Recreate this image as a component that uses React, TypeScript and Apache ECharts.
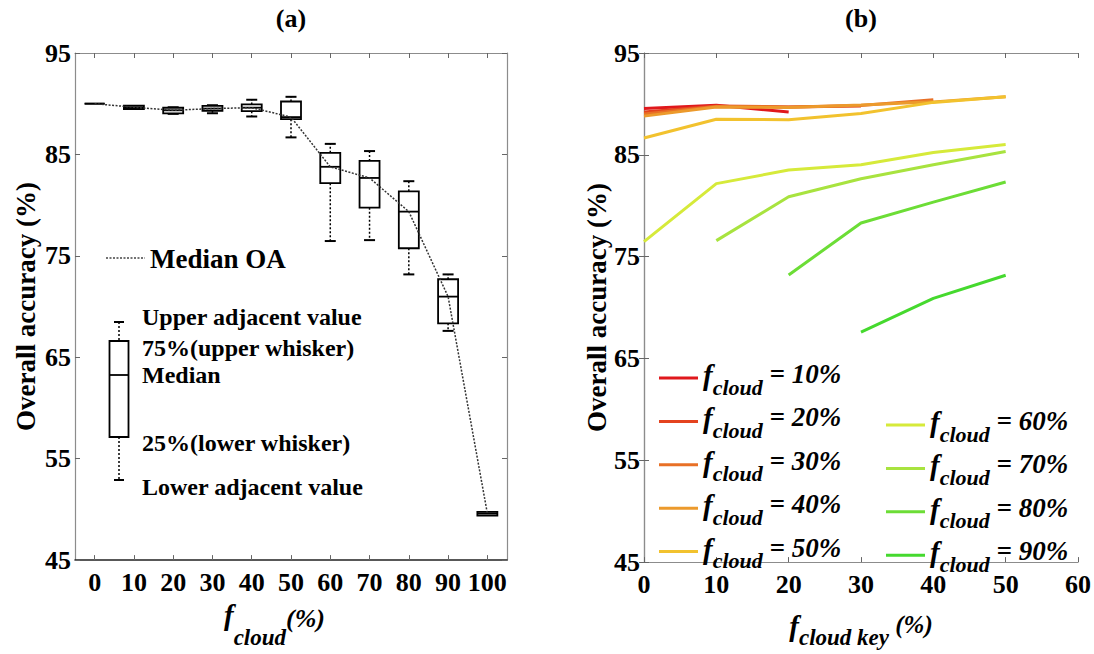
import React, { useEffect, useRef } from 'react';
import * as echarts from 'echarts';

const FONT = "'Liberation Serif', 'Times New Roman', serif";

// ---- Panel (a): box plot data ----
const boxCats = ['0', '10', '20', '30', '40', '50', '60', '70', '80', '90', '100'];
const boxMin = [90.0, 89.48, 89.0, 89.06, 88.74, 86.68, 76.46, 76.55, 73.17, 67.6, 49.4];
const boxQ1 = [90.0, 89.48, 89.05, 89.3, 89.26, 88.48, 82.16, 79.75, 75.75, 68.35, 49.4];
const boxMed = [90.0, 89.65, 89.35, 89.52, 89.61, 88.68, 83.78, 82.68, 79.36, 70.98, 49.6];
const boxQ3 = [90.0, 89.82, 89.6, 89.78, 89.93, 90.22, 85.16, 84.36, 81.36, 72.69, 49.75];
const boxMax = [90.0, 89.82, 89.65, 89.85, 90.39, 90.68, 86.04, 85.33, 82.36, 73.17, 49.75];

// ---- Panel (b): line data ----
const keyX = [0, 10, 20, 30, 40, 50];
const oa10 = [89.55, 89.86, 89.2, null, null, null];
const oa20 = [89.2, 89.8, 89.7, 89.8, null, null];
const oa30 = [89.0, 89.75, 89.7, 89.85, 90.4, null];
const oa40 = [88.8, 89.7, 89.65, 89.9, 90.2, 90.7];
const oa50 = [86.65, 88.5, 88.45, 89.05, 90.15, 90.7];
const oa60 = [76.47, 82.17, 83.5, 84.03, 85.23, 86.02];
const oa70 = [null, 76.57, 80.88, 82.65, 84.03, 85.33];
const oa80 = [null, null, 73.2, 78.3, 80.35, 82.33];
const oa90 = [null, null, null, 67.59, 70.9, 73.17];
const cloudLevels = ['10', '20', '30', '40', '50', '60', '70', '80', '90'];
const lineValues = [oa10, oa20, oa30, oa40, oa50, oa60, oa70, oa80, oa90];
const lineColors = ['#e0181c', '#e4431f', '#e87026', '#ec9a2c', '#f2c22e', '#d6ea3a', '#a8e33f', '#6cdd36', '#45d92e'];

const legendTexts = [
  'Upper adjacent value',
  '75%(upper whisker)',
  'Median',
  '25%(lower whisker)',
  'Lower adjacent value',
];

const bold = (size: number) => ({ fontSize: size, fontWeight: 'bold' as const, fontFamily: FONT, color: '#000' });
const bi = (size: number, lh: number, padding: number[]) => ({
  fontSize: size, fontWeight: 'bold' as const, fontStyle: 'italic' as const, fontFamily: FONT, color: '#000',
  lineHeight: lh, padding, verticalAlign: 'middle' as const,
});

export default function App() {
  const ref = useRef<HTMLDivElement>(null);
  useEffect(() => {
    if (!ref.current) return;
    const chart = echarts.init(ref.current, undefined, { renderer: 'svg' });

    const boxData = boxCats.map((_, i) => [i, boxMin[i], boxQ1[i], boxMed[i], boxQ3[i], boxMax[i]]);

    const lineSeries = cloudLevels.map((lvl, k) => ({
      type: 'line',
      name: 'fc' + lvl,
      xAxisIndex: 2,
      yAxisIndex: 2,
      data: keyX.map((x, i) => [x, lineValues[k][i]]).filter((p) => p[1] !== null),
      symbol: 'none',
      showSymbol: false,
      lineStyle: { width: 3, color: lineColors[k] },
      itemStyle: { color: lineColors[k] },
      z: 3,
    }));

    const legendRich = {
      f: bi(29, 30, [0, 0, 6, 0]),
      sub: bi(22, 22, [18, 0, 0, 0]),
      eq: bi(27, 28, [0, 0, 8, 0]),
    };
    const legendFmt = (name: string) => `{f|f}{sub|cloud}{eq| = ${name.slice(2)}%}`;

    const gray = '#8c8c8c';
    const tick = { show: true, inside: true, length: 5, lineStyle: { color: '#666' } };

    const txt = (text: string, x: number, y: number, size: number, align = 'left') => ({
      type: 'text',
      x, y,
      style: {
        text, font: `bold ${size}px ${FONT}`, fill: '#000',
        textAlign: align, textVerticalAlign: 'middle', align, verticalAlign: 'middle',
      },
    });

    const option: any = {
      animation: false,
      backgroundColor: '#fff',
      grid: [
        { left: 75, top: 53, width: 432, height: 517 },
        { left: 644, top: 53, width: 434, height: 529 },
      ],
      xAxis: [
        {
          type: 'category', gridIndex: 0, data: boxCats, position: 'bottom',
          axisLine: { lineStyle: { color: '#222', width: 1.5 } },
          axisTick: { ...tick, alignWithLabel: true, interval: 0 },
          axisLabel: { ...bold(26), margin: 9, interval: 0 },
          name: '{f|f}{sub|cloud}{pct|(%)}',
          nameLocation: 'middle', nameGap: 27,
          nameTextStyle: {
            rich: {
              f: bi(29, 30, [0, 0, 20, 0]),
              sub: bi(23, 22, [26, 0, 0, 0]),
              pct: bi(26, 26, [0, 33, 12, 0]),
            },
          },
        },
        {
          type: 'category', gridIndex: 0, data: boxCats, position: 'top',
          axisLine: { lineStyle: { color: gray } },
          axisTick: { ...tick, alignWithLabel: true, interval: 0 },
          axisLabel: { show: false },
        },
        {
          type: 'value', gridIndex: 1, min: 0, max: 60, interval: 10, position: 'bottom',
          axisLine: { show: true, lineStyle: { color: gray, width: 1.2 } },
          axisTick: tick,
          axisLabel: { ...bold(26), margin: 9 },
          splitLine: { show: false },
          name: '{f|f}{sub|cloud key}{pct| (%)}',
          nameLocation: 'middle', nameGap: 27,
          nameTextStyle: {
            rich: {
              f: bi(29, 30, [0, 0, 0, 0]),
              sub: bi(23, 22, [24, 0, 0, 0]),
              pct: bi(25, 26, [0, 0, 2, 0]),
            },
          },
        },
        {
          type: 'value', gridIndex: 1, min: 0, max: 60, interval: 10, position: 'top',
          axisLine: { show: true, lineStyle: { color: gray } },
          axisTick: tick, axisLabel: { show: false }, splitLine: { show: false },
        },
      ],
      yAxis: [
        {
          type: 'value', gridIndex: 0, min: 45, max: 95, interval: 10, position: 'left',
          axisLine: { show: true, lineStyle: { color: gray, width: 1.2 } },
          axisTick: tick, axisLabel: { ...bold(26), margin: 4 }, splitLine: { show: false },
          name: 'Overall accuracy (%)', nameLocation: 'middle', nameGap: 36,
          nameTextStyle: bold(27),
        },
        {
          type: 'value', gridIndex: 0, min: 45, max: 95, interval: 10, position: 'right',
          axisLine: { show: true, lineStyle: { color: gray, width: 1.2 } },
          axisTick: tick, axisLabel: { show: false }, splitLine: { show: false },
        },
        {
          type: 'value', gridIndex: 1, min: 45, max: 95, interval: 10, position: 'left',
          axisLine: { show: true, lineStyle: { color: gray, width: 1.2 } },
          axisTick: tick, axisLabel: { ...bold(26), margin: 4 }, splitLine: { show: false },
          name: 'Overall accuracy (%)', nameLocation: 'middle', nameGap: 33,
          nameTextStyle: bold(27),
        },
        {
          type: 'value', gridIndex: 1, min: 45, max: 95, interval: 10, position: 'right',
          axisLine: { show: true, lineStyle: { color: gray, width: 1.2 } },
          axisTick: tick, axisLabel: { show: false }, splitLine: { show: false },
        },
      ],
      legend: [
        {
          data: cloudLevels.slice(0, 5).map((l) => 'fc' + l), left: 659, top: 358, padding: 0,
          orient: 'vertical', itemWidth: 39, itemHeight: 3, itemGap: 3.4, icon: 'rect',
          selectedMode: false, formatter: legendFmt, textStyle: { rich: legendRich },
        },
        {
          data: cloudLevels.slice(5).map((l) => 'fc' + l), left: 886, top: 405, padding: 0,
          orient: 'vertical', itemWidth: 39, itemHeight: 3, itemGap: 3.4, icon: 'rect',
          selectedMode: false, formatter: legendFmt, textStyle: { rich: legendRich },
        },
      ],
      graphic: [
        txt('(a)', 291, 18, 26, 'center'),
        txt('(b)', 861, 18, 26, 'center'),
        { type: 'line', shape: { x1: 106, y1: 258, x2: 145, y2: 258 }, style: { stroke: '#444', lineWidth: 1.5, lineDash: [2, 1.5] } },
        txt('Median OA', 150, 259, 27),
        txt(legendTexts[0], 142, 317, 24),
        txt(legendTexts[1], 142, 348, 24),
        txt(legendTexts[2], 142, 375, 24),
        txt(legendTexts[3], 142, 443, 24),
        txt(legendTexts[4], 142, 487, 24),
        { type: 'line', shape: { x1: 119, y1: 322, x2: 119, y2: 341 }, style: { stroke: '#000', lineWidth: 1.5, lineDash: [2, 2] } },
        { type: 'line', shape: { x1: 119, y1: 437, x2: 119, y2: 480 }, style: { stroke: '#000', lineWidth: 1.5, lineDash: [2, 2] } },
        { type: 'line', shape: { x1: 114, y1: 322, x2: 124, y2: 322 }, style: { stroke: '#000', lineWidth: 2 } },
        { type: 'line', shape: { x1: 114, y1: 480, x2: 124, y2: 480 }, style: { stroke: '#000', lineWidth: 2 } },
        { type: 'rect', shape: { x: 109.5, y: 341, width: 19, height: 96 }, style: { fill: '#fff', stroke: '#000', lineWidth: 1.8 } },
        { type: 'line', shape: { x1: 109.5, y1: 375, x2: 128.5, y2: 375 }, style: { stroke: '#000', lineWidth: 1.8 } },
      ],
      series: [
        {
          type: 'custom',
          name: 'OA boxes',
          xAxisIndex: 0,
          yAxisIndex: 0,
          data: boxData,
          encode: { x: 0, y: [1, 2, 3, 4, 5] },
          z: 2,
          renderItem: (_params: any, api: any) => {
            const i = api.value(0);
            const lo = api.coord([i, api.value(1)]);
            const q1 = api.coord([i, api.value(2)]);
            const md = api.coord([i, api.value(3)]);
            const q3 = api.coord([i, api.value(4)]);
            const hi = api.coord([i, api.value(5)]);
            const cx = md[0];
            const bw = 10;
            const cw = 5.5;
            const stroke = '#000';
            const children: any[] = [];
            if (hi[1] < q3[1] - 0.5) {
              children.push({ type: 'line', shape: { x1: cx, y1: q3[1], x2: cx, y2: hi[1] }, style: { stroke, lineWidth: 1.5, lineDash: [2, 2] } });
              children.push({ type: 'line', shape: { x1: cx - cw, y1: hi[1], x2: cx + cw, y2: hi[1] }, style: { stroke, lineWidth: 2 } });
            }
            if (lo[1] > q1[1] + 0.5) {
              children.push({ type: 'line', shape: { x1: cx, y1: q1[1], x2: cx, y2: lo[1] }, style: { stroke, lineWidth: 1.5, lineDash: [2, 2] } });
              children.push({ type: 'line', shape: { x1: cx - cw, y1: lo[1], x2: cx + cw, y2: lo[1] }, style: { stroke, lineWidth: 2 } });
            }
            children.push({ type: 'rect', shape: { x: cx - bw, y: q3[1], width: 2 * bw, height: q1[1] - q3[1] }, style: { fill: '#fff', stroke, lineWidth: 1.8 } });
            children.push({ type: 'line', shape: { x1: cx - bw, y1: md[1], x2: cx + bw, y2: md[1] }, style: { stroke, lineWidth: 1.8 } });
            return { type: 'group', children };
          },
        },
        {
          type: 'line',
          name: 'Median OA',
          xAxisIndex: 0,
          yAxisIndex: 0,
          data: boxMed,
          symbol: 'none',
          showSymbol: false,
          lineStyle: { color: '#333', width: 1.5, type: [2, 1.5] },
          itemStyle: { color: '#333' },
          z: 4,
        },
        ...lineSeries,
      ],
    };

    chart.setOption(option);
    return () => chart.dispose();
  }, []);

  return (
    <div
      ref={ref}
      style={{ position: 'fixed', left: 0, top: 0, width: 1094, height: 654, background: '#fff' }}
    />
  );
}
